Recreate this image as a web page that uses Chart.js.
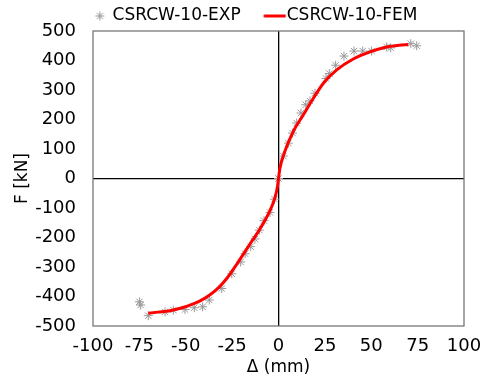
<!DOCTYPE html>
<html>
<head>
<meta charset="utf-8">
<script src="https://cdn.jsdelivr.net/npm/chart.js@4/dist/chart.umd.min.js"></script>
<style>
  html, body { margin: 0; padding: 0; background: #fff; }
  #wrap { width: 483px; height: 378px; }
</style>
</head>
<body>
<div id="wrap"><canvas id="c" width="483" height="378"></canvas></div>
<script>
// Test results: displacement (mm) and load (kN)
const expDisp = [
  -75.0, -74.3, -70.2, -61.2, -56.7, -50.4, -45.4, -40.9, -37.3, -30.6,
  -25.2, -20.4, -18.0, -15.0, -12.7, -10.3, -7.8, -4.6, -2.2, 0.0,
  2.6, 5.3, 7.6, 9.8, 12.1, 14.7, 17.0, 19.7, 25.6, 27.4,
  30.8, 35.3, 40.7, 45.4, 50.2, 58.3, 60.5, 71.3, 74.5
];
const expLoad = [
  -418, -429, -465, -452, -446, -444, -438, -435, -412, -373,
  -323, -283, -255, -231, -205, -175, -143, -115, -70, 0,
  76, 120, 154, 188, 222, 250, 263, 289, 339, 356,
  384, 415, 432, 432, 432, 446, 443, 457, 450
];

// Finite element envelope
const femDisp = [
  -70.2, -65.0, -58.5, -52.0, -47.7, -42.3, -36.9, -32.0, -27.9, -21.7,
  -15.4, -10.0, -4.6, -1.9, -0.5, 0.0, 0.8, 3.5, 8.0, 13.4,
  18.8, 24.2, 31.4, 40.3, 49.3, 58.3, 65.0, 70.0
];
const femLoad = [
  -457, -453, -448, -438, -429, -415, -394, -368, -339, -283,
  -222, -171, -109, -65, -25, 0, 36, 93, 160, 216,
  272, 323, 368, 405, 429, 446, 452, 454
];

const xTicks = [-100, -75, -50, -25, 0, 25, 50, 75, 100];
const yTicks = [-500, -400, -300, -200, -100, 0, 100, 200, 300, 400, 500];

const FONT = "'DejaVu Sans', Verdana, sans-serif";
const LEGEND_SIZE = 17;
const LEGEND_PAD = 2;
const LEGEND_BOX = 35.5;
const EXP_COLOR = '#999';
const FEM_COLOR = '#ff0000';

// Legend symbols: small canvases centred on the legend box,
// with the glyph placed just left of the label text.
function legendSymbol(kind) {
  const textOff = LEGEND_BOX + LEGEND_SIZE / 2;     // text start, from box left
  const mid = LEGEND_BOX / 2;                       // symbol centre, from box left
  const cv = document.createElement('canvas');
  const g = cv.getContext('2d');
  if (kind === 'line') {
    const a = textOff - 23 - mid, b = textOff - 1 - mid;
    const half = Math.ceil(Math.max(Math.abs(a), Math.abs(b))) + 1;
    cv.width = half * 2; cv.height = 6;
    g.strokeStyle = FEM_COLOR; g.lineWidth = 3;
    g.beginPath(); g.moveTo(half + a, 3); g.lineTo(half + b, 3); g.stroke();
  } else {
    const s = textOff - 12.7 - mid;
    const half = Math.ceil(Math.abs(s)) + 7;
    cv.width = half * 2; cv.height = 14;
    const cx = half + s, cy = 7, r = 4.5, d = r * Math.SQRT1_2;
    g.strokeStyle = EXP_COLOR; g.lineWidth = 1;
    g.beginPath();
    g.moveTo(cx - r, cy); g.lineTo(cx + r, cy);
    g.moveTo(cx, cy - r); g.lineTo(cx, cy + r);
    g.moveTo(cx - d, cy - d); g.lineTo(cx + d, cy + d);
    g.moveTo(cx - d, cy + d); g.lineTo(cx + d, cy - d);
    g.stroke();
  }
  return cv;
}
const legendSymbols = [legendSymbol('star'), legendSymbol('line')];

const frame = {
  id: 'frame',
  afterLayout(chart) {
    // nudge the legend row into place above the plot
    const lg = chart.legend;
    lg.top += 3.5; lg.bottom += 3.5;
    lg.left += 11; lg.right += 11;
  },
  afterDatasetsDraw(chart) {
    const a = chart.chartArea, ctx = chart.ctx;
    ctx.save();
    ctx.strokeStyle = '#777';
    ctx.lineWidth = 1.3;
    ctx.strokeRect(a.left, a.top, a.right - a.left, a.bottom - a.top);
    ctx.restore();
  }
};

new Chart(document.getElementById('c'), {
  type: 'scatter',
  data: {
    datasets: [
      {
        label: 'CSRCW-10-EXP',
        data: expDisp.map((x, i) => ({ x, y: expLoad[i] })),
        pointStyle: 'star',
        pointRadius: 4.5,
        borderColor: EXP_COLOR,
        backgroundColor: EXP_COLOR,
        borderWidth: 1,
        showLine: false,
        order: 2
      },
      {
        label: 'CSRCW-10-FEM',
        data: femDisp.map((x, i) => ({ x, y: femLoad[i] })),
        showLine: true,
        borderColor: FEM_COLOR,
        backgroundColor: FEM_COLOR,
        borderWidth: 3,
        pointRadius: 0,
        cubicInterpolationMode: 'monotone',
        order: 1
      }
    ]
  },
  options: {
    responsive: false,
    animation: false,
    layout: { padding: { top: 2, right: 19, left: 0, bottom: 0 } },
    plugins: {
      legend: {
        position: 'top',
        labels: {
          font: { family: FONT, size: LEGEND_SIZE },
          color: '#000',
          usePointStyle: true,
          pointStyleWidth: LEGEND_BOX,
          padding: LEGEND_PAD,
          sort: (a, b) => a.datasetIndex - b.datasetIndex,
          generateLabels(chart) {
            const items = Chart.defaults.plugins.legend.labels.generateLabels(chart);
            items.forEach(it => { it.pointStyle = legendSymbols[it.datasetIndex]; });
            return items;
          }
        }
      },
      tooltip: { enabled: false }
    },
    scales: {
      x: {
        type: 'linear',
        min: -100, max: 100,
        afterBuildTicks(s) { s.ticks = xTicks.map(v => ({ value: v })); },
        afterFit(s) { s.height = 52; s.paddingLeft = 0; s.paddingRight = 0; },
        ticks: {
          font: { family: FONT, size: 18 }, color: '#000', padding: 10,
          maxRotation: 0, minRotation: 0, autoSkip: false
        },
        grid: {
          drawTicks: false,
          color: ctx => (ctx.tick && ctx.tick.value === 0 ? '#000' : 'rgba(0,0,0,0)'),
          lineWidth: 1.3
        },
        border: { display: false },
        title: {
          display: true, text: 'Δ (mm)', color: '#000',
          font: { family: FONT, size: 17 }, padding: { top: 0, bottom: 0 }
        }
      },
      y: {
        type: 'linear',
        min: -500, max: 500,
        afterBuildTicks(s) { s.ticks = yTicks.map(v => ({ value: v })); },
        afterFit(s) { s.width = 93; },
        ticks: { font: { family: FONT, size: 18 }, color: '#000', padding: 17, autoSkip: false },
        grid: {
          drawTicks: false,
          color: ctx => (ctx.tick && ctx.tick.value === 0 ? '#000' : 'rgba(0,0,0,0)'),
          lineWidth: 1.3
        },
        border: { display: false },
        title: {
          display: true, text: 'F [kN]', color: '#000',
          font: { family: FONT, size: 17 }, padding: { top: 12, bottom: 0 }
        }
      }
    }
  },
  plugins: [frame]
});
</script>
</body>
</html>
